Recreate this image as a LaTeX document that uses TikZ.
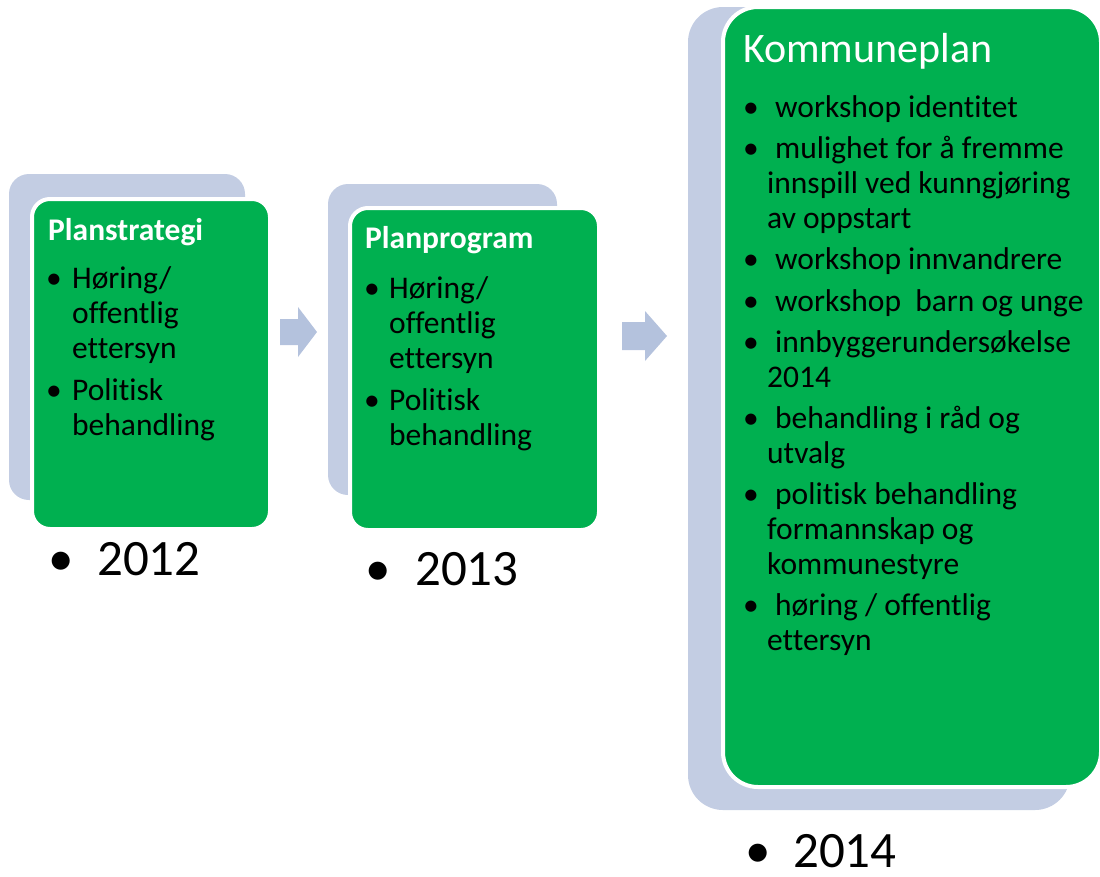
\documentclass[tikz,border=0pt]{standalone}
\usepackage{fontspec}
\setmainfont{Carlito}[Ligatures={NoCommon,NoRare}]
\definecolor{grn}{HTML}{00B050}
\definecolor{backc}{HTML}{C3CDE3}
\definecolor{arrc}{HTML}{B4C2DD}
\begin{document}
\begin{tikzpicture}[x=1pt,y=-1pt,
  body/.style={anchor=base west, inner sep=0pt, font=\fontsize{31.5}{35}\selectfont},
  bul/.style={anchor=base, inner sep=0pt, font=\fontsize{31.5}{35}\selectfont},
  ttl/.style={anchor=base west, inner sep=0pt, text=white, font=\bfseries\fontsize{31.5}{35}\selectfont},
  bigttl/.style={anchor=base west, inner sep=0pt, text=white, font=\fontsize{42}{48}\selectfont},
  yr/.style={anchor=base west, inner sep=0pt, font=\fontsize{51}{60}\selectfont},
  ybul/.style={anchor=base, inner sep=0pt, font=\fontsize{51}{60}\selectfont},
  backbox/.style={fill=backc},
  greenbox/.style={fill=grn, draw=white, line width=4pt},
  blockarrow/.style={fill=arrc}]
\useasboundingbox (0,0) rectangle (1100,876);

% ---------- Box 1: Planstrategi ----------
\fill[backbox, rounded corners=20pt] (9,174) rectangle (245,500);
\draw[greenbox, rounded corners=18pt] (32,199) rectangle (270,529);
\node[ttl] (t1) at (48,240) {Planstrategi};
\node[bul] (b1a) at (54,288) {\textbullet};
\node[body] (l1a) at (72,288) {Høring/};
\node[body] (l1b) at (72,323) {offentlig};
\node[body] (l1c) at (72,358) {ettersyn};
\node[bul] (b1b) at (54,400) {\textbullet};
\node[body] (l1d) at (72,400) {Politisk};
\node[body] (l1e) at (72,435) {behandling};
\node[ybul] (yb1) at (61,575) {\textbullet};
\node[yr] (y1) at (97,575) {2012};

% ---------- Arrow 1 ----------
\fill[blockarrow] (280,319) -- (298,319) -- (298,307) -- (317,332) -- (298,357) -- (298,345) -- (280,345) -- cycle;

% ---------- Box 2: Planprogram ----------
\fill[backbox, rounded corners=20pt] (328,184) rectangle (557,495);
\draw[greenbox, rounded corners=18pt] (350,208) rectangle (599,530);
\node[ttl] (t2) at (365,248) {Planprogram};
\node[bul] (b2a) at (372,298) {\textbullet};
\node[body] (l2a) at (389,298) {Høring/};
\node[body] (l2b) at (389,333) {offentlig};
\node[body] (l2c) at (389,368) {ettersyn};
\node[bul] (b2b) at (372,410) {\textbullet};
\node[body] (l2d) at (389,410) {Politisk};
\node[body] (l2e) at (389,445) {behandling};
\node[ybul] (yb2) at (378,585) {\textbullet};
\node[yr] (y2) at (415,585) {2013};

% ---------- Arrow 2 ----------
\fill[blockarrow] (622,322) -- (645,322) -- (645,311) -- (667,336) -- (645,361) -- (645,350) -- (622,350) -- cycle;

% ---------- Box 3: Kommuneplan ----------
\fill[backbox, rounded corners=35pt] (688,7) rectangle (1070,810);
\draw[greenbox, rounded corners=35pt] (723,7) rectangle (1101,787);
\node[bigttl] (t3) at (743,62) {Kommuneplan};
\node[bul] (k1) at (751,117) {\textbullet};
\node[body] (k1a) at (775,117) {workshop identitet};
\node[bul] (k2) at (751,158) {\textbullet};
\node[body] (k2a) at (775,158) {mulighet for å fremme};
\node[body] (k2b) at (767,193) {innspill ved kunngjøring};
\node[body] (k2c) at (767,228) {av oppstart};
\node[bul] (k3) at (751,269) {\textbullet};
\node[body] (k3a) at (775,269) {workshop innvandrere};
\node[bul] (k4) at (751,311) {\textbullet};
\node[body] (k4a) at (775,311) {workshop~~barn og unge};
\node[bul] (k5) at (751,352) {\textbullet};
\node[body] (k5a) at (775,352) {innbyggerundersøkelse};
\node[body] (k5b) at (767,387) {2014};
\node[bul] (k6) at (751,428) {\textbullet};
\node[body] (k6a) at (775,428) {behandling i råd og};
\node[body] (k6b) at (767,463) {utvalg};
\node[bul] (k7) at (751,504) {\textbullet};
\node[body] (k7a) at (775,504) {politisk behandling};
\node[body] (k7b) at (767,539) {formannskap og};
\node[body] (k7c) at (767,574) {kommunestyre};
\node[bul] (k8) at (751,615) {\textbullet};
\node[body] (k8a) at (775,615) {høring / offentlig};
\node[body] (k8b) at (767,650) {ettersyn};
\node[ybul] (yb3) at (758,867) {\textbullet};
\node[yr] (y3) at (793,867) {2014};
\end{tikzpicture}
\end{document}
